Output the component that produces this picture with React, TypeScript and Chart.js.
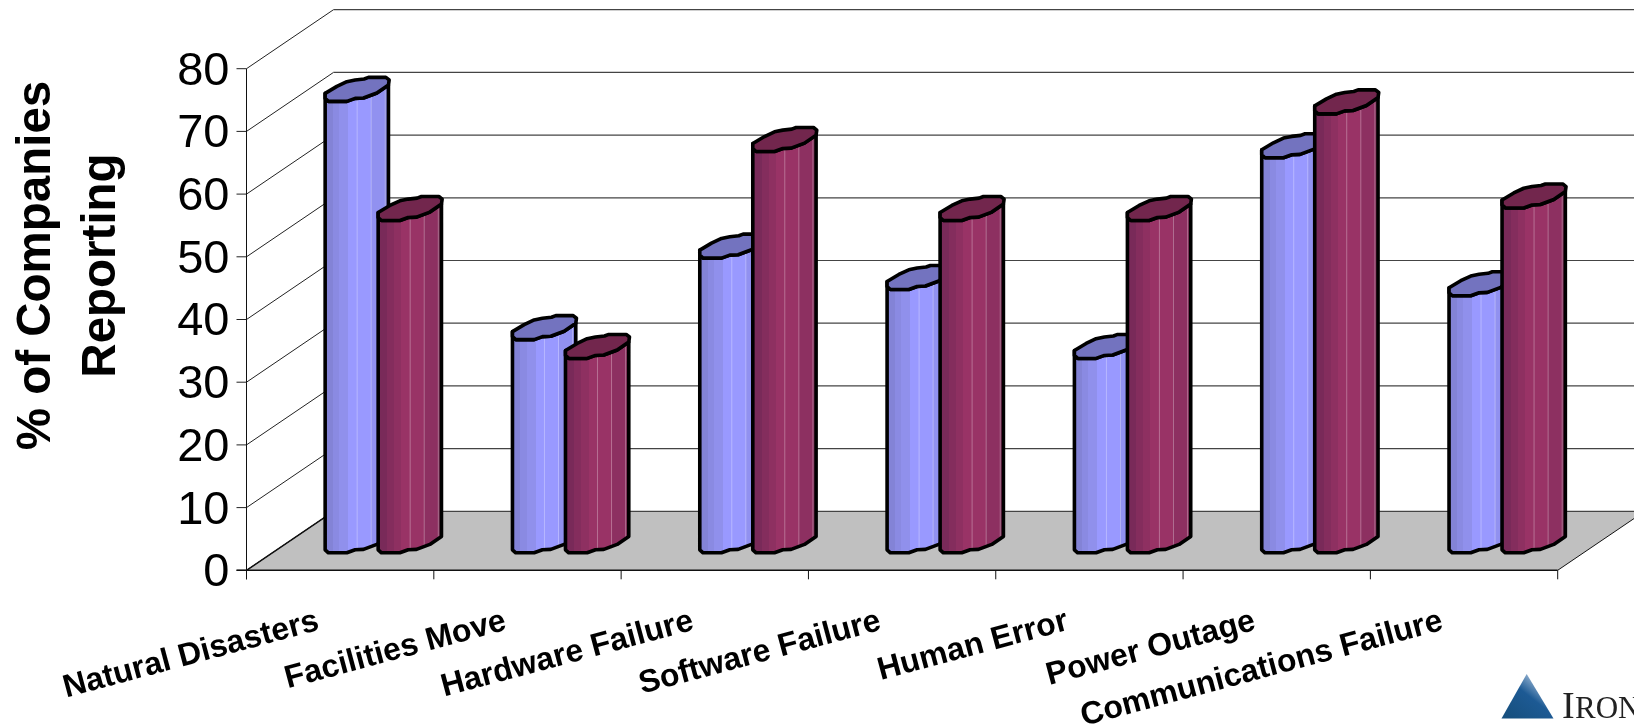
import React, { useEffect, useRef } from "react";
import { Chart, registerables } from "chart.js";

Chart.register(...registerables);

const categories = [
  "Natural Disasters",
  "Facilities Move",
  "Hardware Failure",
  "Software Failure",
  "Human Error",
  "Power Outage",
  "Communications Failure",
];
const seriesOne = [72, 34, 47, 42, 31, 63, 41];
const seriesTwo = [53, 31, 64, 53, 53, 70, 55];

const titleLines = ["% of Companies", "Reporting"];

const WIDTH = 1634;
const HEIGHT = 727;
const AXIS_X = 246.5;
const AXIS_RIGHT = 1557.7;
const AXIS_TOP = 68.7;
const AXIS_BOTTOM = 570.3;
const DEPTH_X = 87;
const DEPTH_Y = 59;
const BAR_W = 64;

// Outline of the cylinder's cap, relative to its centre
const capUpper: [number, number][] = [
  [-32, 4], [-20.3, -3], [-10.3, -7.7], [-2, -9.4], [7, -10.4], [11.3, -12], [28.7, -12], [32, -9.4], [31.3, -4.4],
];
const capLower: [number, number][] = [
  [31.3, -4.4], [19.7, 3.6], [6.3, 8.6], [-2, 9], [-10.3, 12], [-28.7, 12], [-32, 9], [-32, 4],
];

const blueBands: [number, string][] = [
  [0.125, "#8383d6"], [0.22, "#8a8ae2"], [0.36, "#9090ec"], [0.72, "#9999ff"], [0.94, "#9191f0"], [1, "#8686dc"],
];
const redBands: [number, string][] = [
  [0.14, "#792a59"], [0.25, "#842d5d"], [0.36, "#8e3061"], [0.72, "#993366"], [0.94, "#8d3061"], [1, "#80305a"],
];
const capColors = ["#7373bf", "#72264d"];

function bandGradient(ctx: CanvasRenderingContext2D, left: number, bands: [number, string][]) {
  const g = ctx.createLinearGradient(left, 0, left + BAR_W, 0);
  let from = 0;
  for (const [to, color] of bands) {
    g.addColorStop(from, color);
    g.addColorStop(to, color);
    from = to;
  }
  return g;
}

function drawCylinder(
  ctx: CanvasRenderingContext2D,
  cx: number,
  topY: number,
  baseY: number,
  bands: [number, string][],
  capColor: string,
) {
  const left = cx - BAR_W / 2;
  ctx.save();
  ctx.lineJoin = "round";
  ctx.lineWidth = 3.6;
  ctx.strokeStyle = "#000";

  // body
  const body = new Path2D();
  capLower.forEach(([x, y], i) => {
    if (i === 0) body.moveTo(cx + x, topY + y);
    else body.lineTo(cx + x, topY + y);
  });
  [...capLower].reverse().forEach(([x, y]) => body.lineTo(cx + x, baseY + y));
  body.closePath();
  ctx.fillStyle = bandGradient(ctx, left, bands);
  ctx.fill(body);

  // thin highlights between the facets
  ctx.save();
  ctx.clip(body);
  ctx.strokeStyle = "rgba(255,255,255,0.3)";
  ctx.lineWidth = 1;
  for (const f of [0.5, 0.72, 0.94]) {
    ctx.beginPath();
    ctx.moveTo(left + BAR_W * f, topY - 20);
    ctx.lineTo(left + BAR_W * f, baseY + 20);
    ctx.stroke();
  }
  ctx.restore();
  ctx.stroke(body);

  // cap
  const cap = new Path2D();
  [...capUpper, ...capLower].forEach(([x, y], i) => {
    if (i === 0) cap.moveTo(cx + x, topY + y);
    else cap.lineTo(cx + x, topY + y);
  });
  cap.closePath();
  ctx.fillStyle = capColor;
  ctx.fill(cap);
  ctx.stroke(cap);
  ctx.restore();
}

const scene3d = {
  id: "scene3d",
  beforeDatasetsDraw(chart: any) {
    const { ctx } = chart;
    const xs = chart.scales.x;
    const ys = chart.scales.y;
    const x0 = xs.left;
    const x1 = xs.right;
    const yBase = ys.getPixelForValue(0);

    ctx.save();
    // floor
    ctx.beginPath();
    ctx.moveTo(x0, yBase);
    ctx.lineTo(x1, yBase);
    ctx.lineTo(x1 + DEPTH_X, yBase - DEPTH_Y);
    ctx.lineTo(x0 + DEPTH_X, yBase - DEPTH_Y);
    ctx.closePath();
    ctx.fillStyle = "#c0c0c0";
    ctx.fill();

    // walls' gridlines and value ticks
    for (const t of ys.ticks) {
      const y = ys.getPixelForValue(t.value);
      ctx.lineWidth = 1;
      ctx.strokeStyle = "#222";
      ctx.beginPath();
      ctx.moveTo(x0 - 10, y);
      ctx.lineTo(x0, y);
      ctx.lineTo(x0 + DEPTH_X, y - DEPTH_Y);
      ctx.stroke();
      ctx.strokeStyle = "#444";
      ctx.lineWidth = 1.2;
      ctx.beginPath();
      ctx.moveTo(x0 + DEPTH_X, y - DEPTH_Y);
      ctx.lineTo(WIDTH + 20, y - DEPTH_Y);
      ctx.stroke();
    }

    // floor side edge
    ctx.strokeStyle = "#111";
    ctx.lineWidth = 1;
    ctx.beginPath();
    ctx.moveTo(x1, yBase);
    ctx.lineTo(x1 + DEPTH_X, yBase - DEPTH_Y);
    ctx.stroke();
    ctx.beginPath();
    ctx.moveTo(x0, yBase);
    ctx.lineTo(x0 + DEPTH_X, yBase - DEPTH_Y);
    ctx.lineWidth = 1.4;
    ctx.stroke();

    // value axis line
    ctx.strokeStyle = "#111";
    ctx.lineWidth = 1;
    ctx.beginPath();
    ctx.moveTo(x0, ys.getPixelForValue(80));
    ctx.lineTo(x0, yBase + 9);
    ctx.stroke();

    // category axis line and boundary ticks
    ctx.lineWidth = 1.5;
    ctx.beginPath();
    ctx.moveTo(x0 - 10, yBase);
    ctx.lineTo(x1, yBase);
    ctx.stroke();
    ctx.lineWidth = 1;
    const step = (x1 - x0) / categories.length;
    for (let i = 0; i <= categories.length; i++) {
      const x = x0 + step * i;
      ctx.beginPath();
      ctx.moveTo(x, yBase);
      ctx.lineTo(x, yBase + 9);
      ctx.stroke();
    }

    // vertical title
    ctx.save();
    ctx.fillStyle = "#000";
    ctx.font = "bold 47.5px 'Liberation Sans'";
    ctx.textAlign = "center";
    ctx.textBaseline = "alphabetic";
    titleLines.forEach((line, i) => {
      ctx.save();
      ctx.translate(50 + i * 65, 265.5);
      ctx.rotate(-Math.PI / 2);
      ctx.fillText(line, 0, 0);
      ctx.restore();
    });
    ctx.restore();

    // logo
    const tri = ctx.createLinearGradient(1510, 718, 1540, 680);
    tri.addColorStop(0, "#17507f");
    tri.addColorStop(0.6, "#1d5a94");
    tri.addColorStop(1, "#9db9d6");
    ctx.fillStyle = tri;
    ctx.beginPath();
    ctx.moveTo(1526.7, 674);
    ctx.lineTo(1553.5, 718.5);
    ctx.lineTo(1501.5, 718.5);
    ctx.closePath();
    ctx.fill();
    ctx.fillStyle = "#222";
    ctx.textAlign = "left";
    ctx.textBaseline = "alphabetic";
    ctx.font = "38px 'Liberation Serif'";
    ctx.fillText("I", 1562, 718);
    ctx.font = "31px 'Liberation Serif'";
    ctx.fillText("RON", 1575, 718);

    // bars, read from the chart's own elements
    const shiftY = DEPTH_Y / 2;
    const shiftX = DEPTH_X / 2;
    const metas = [chart.getDatasetMeta(0), chart.getDatasetMeta(1)];
    for (let i = 0; i < categories.length; i++) {
      metas.forEach((meta, d) => {
        const el = meta.data[i];
        drawCylinder(
          ctx,
          el.x + shiftX,
          el.y - shiftY,
          el.base - shiftY,
          d === 0 ? blueBands : redBands,
          capColors[d],
        );
      });
    }
    ctx.restore();
    return false;
  },
};

export default function App() {
  const ref = useRef<HTMLCanvasElement | null>(null);

  useEffect(() => {
    const chart = new Chart(ref.current as HTMLCanvasElement, {
      type: "bar",
      data: {
        labels: categories,
        datasets: [
          { label: "Series 1", data: seriesOne, backgroundColor: "#9999ff", borderColor: "#000" },
          { label: "Series 2", data: seriesTwo, backgroundColor: "#993366", borderColor: "#000" },
        ],
      },
      options: {
        animation: false,
        responsive: false,
        layout: { padding: { top: AXIS_TOP, right: WIDTH - AXIS_RIGHT, left: 0, bottom: 0 } },
        datasets: { bar: { categoryPercentage: 0.566, barPercentage: 1 } },
        plugins: { legend: { display: false }, tooltip: { enabled: false }, title: { display: false } },
        scales: {
          x: {
            grid: { display: false },
            border: { display: false },
            afterFit: (s: any) => {
              s.height = HEIGHT - AXIS_BOTTOM;
            },
            ticks: {
              autoSkip: false,
              minRotation: 15,
              maxRotation: 15,
              labelOffset: -22,
              padding: 24,
              color: "#000",
              font: { family: "'Liberation Sans'", size: 32, weight: "bold" },
            },
          },
          y: {
            min: 0,
            max: 80,
            grid: { display: false },
            border: { display: false },
            afterFit: (s: any) => {
              s.width = AXIS_X;
            },
            ticks: {
              stepSize: 10,
              padding: 9,
              labelOffset: 3,
              color: "#000",
              font: { family: "'Liberation Sans'", size: 47 },
            },
          },
        },
      },
      plugins: [scene3d],
    } as any);
    return () => chart.destroy();
  }, []);

  return (
    <div style={{ position: "absolute", left: 0, top: 0, width: WIDTH, height: HEIGHT, overflow: "hidden" }}>
      <canvas ref={ref} width={WIDTH} height={HEIGHT} style={{ display: "block" }} />
    </div>
  );
}
